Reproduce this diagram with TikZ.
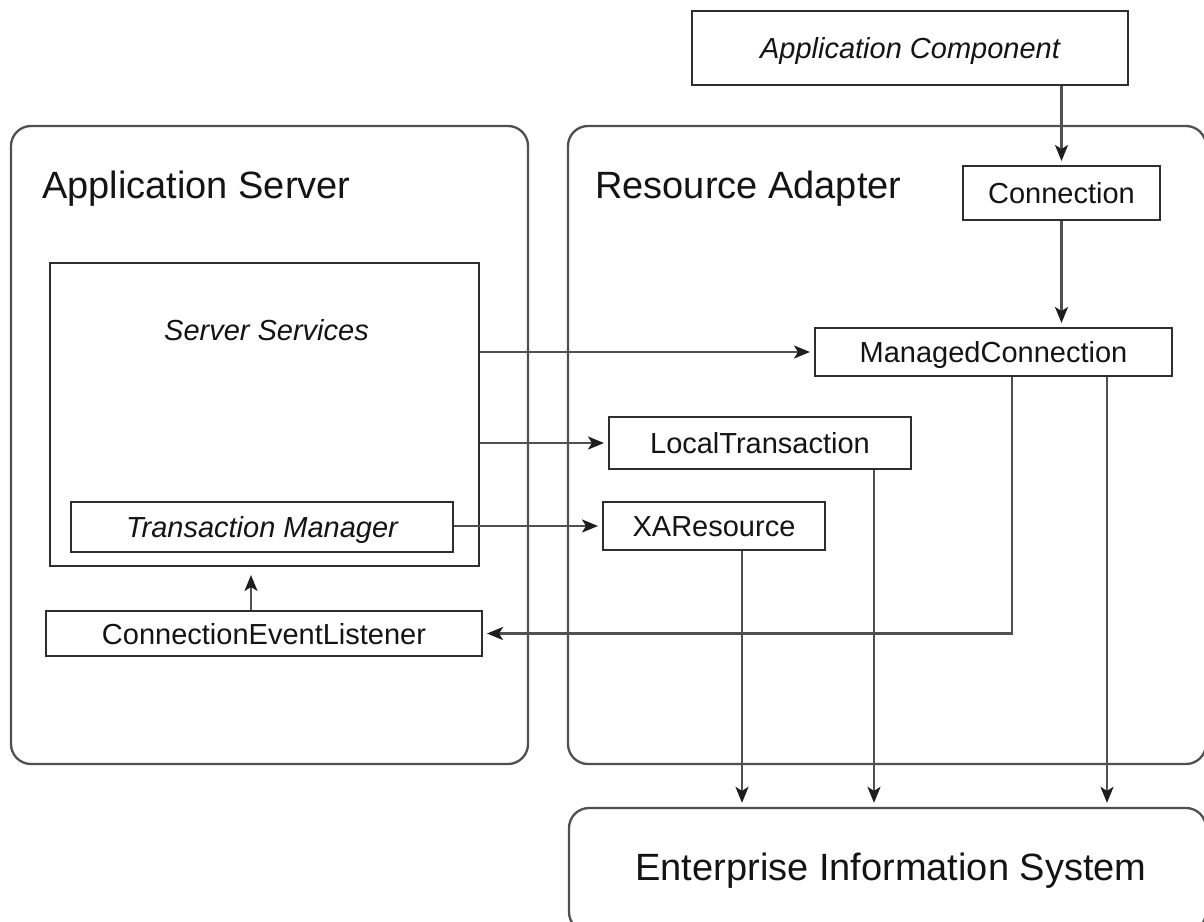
\documentclass[tikz,border=0pt]{standalone}
\usepackage{fontspec}
\setmainfont{Liberation Sans}
\usetikzlibrary{arrows.meta}
\definecolor{ln}{HTML}{505050}
\definecolor{bx}{HTML}{2E2E2E}
\definecolor{tx}{HTML}{141414}
\definecolor{hd}{HTML}{1E1E1E}
\begin{document}
\begin{tikzpicture}[x=1pt,y=-1pt,
  container/.style={draw=ln, line width=2.3pt, rounded corners=20pt, inner sep=0pt},
  box/.style={draw=bx, line width=2pt, fill=white, inner sep=0pt, text=tx,
              font=\fontsize{29}{33}\selectfont, text height=21pt, text depth=0pt},
  ibox/.style={box, font=\fontsize{29}{33}\selectfont\itshape},
  title/.style={anchor=base west, inner sep=0pt, text=tx, font=\fontsize{38}{43}\selectfont},
  arr/.style={draw=ln, line width=2.4pt, -{Stealth[length=16pt,width=13pt,inset=4pt,color=hd]}, shorten >=4pt},
]
\useasboundingbox (0,0) rectangle (1204,921);
\fill[white] (0,0) rectangle (1204,921);
\clip (0,0) rectangle (1204,921);

% containers
\node[container, minimum width=517pt, minimum height=638pt] (as) at (269.5,445) {};
\node[container, minimum width=638pt, minimum height=638pt] (ra) at (887,445) {};
\node[container, minimum width=637pt, minimum height=124pt] (eis) at (887.5,870) {};
\node[title] (ast) at (42,198) {Application Server};
\node[title] (rat) at (595,198) {Resource Adapter};
\node[title, anchor=base] (eist) at (891,880) {Enterprise Information System};

% boxes
\node[ibox, minimum width=436pt, minimum height=74pt] (ac) at (910,48) {Application Component};
\node[box, minimum width=197pt, minimum height=54pt] (conn) at (1061.5,193) {Connection};
\node[box, minimum width=357pt, minimum height=48pt] (mc) at (993.5,352) {ManagedConnection};
\node[box, minimum width=302pt, minimum height=52pt] (lt) at (760,443) {LocalTransaction};
\node[box, minimum width=222pt, minimum height=48pt] (xa) at (714,526) {XAResource};
\node[box, minimum width=429pt, minimum height=303pt] (ss) at (264.5,414.5) {};
\node[anchor=base, inner sep=0pt, text=tx, font=\fontsize{29}{33}\selectfont\itshape] (sst) at (266.5,340) {Server Services};
\node[ibox, minimum width=382pt, minimum height=50pt] (tm) at (262,527) {Transaction Manager};
\node[box, minimum width=436pt, minimum height=45pt] (cel) at (264,633.5) {ConnectionEventListener};

% helper x positions
\coordinate (v1) at (1012,0);
\coordinate (v2) at (1107,0);
\coordinate (v3) at (874,0);
\coordinate (v4) at (742,0);
\coordinate (v5) at (251,0);

% connectors
\draw[arr] (ac.south -| conn.north) -- (conn.north);
\draw[arr] (conn.south) -- (conn.south |- mc.north);
\draw[arr] (ss.east |- mc.west) -- (mc.west);
\draw[arr] (ss.east |- lt.west) -- (lt.west);
\draw[arr] (tm.east |- xa.west) -- (xa.west);
\draw[arr, shorten >=8pt] (cel.north -| v5) -- (ss.south -| v5);
\draw[arr] (mc.south -| v1) |- (cel.east);
\draw[arr] (mc.south -| v2) -- (eis.north -| v2);
\draw[arr] (lt.south -| v3) -- (eis.north -| v3);
\draw[arr] (xa.south -| v4) -- (eis.north -| v4);
\end{tikzpicture}
\end{document}
